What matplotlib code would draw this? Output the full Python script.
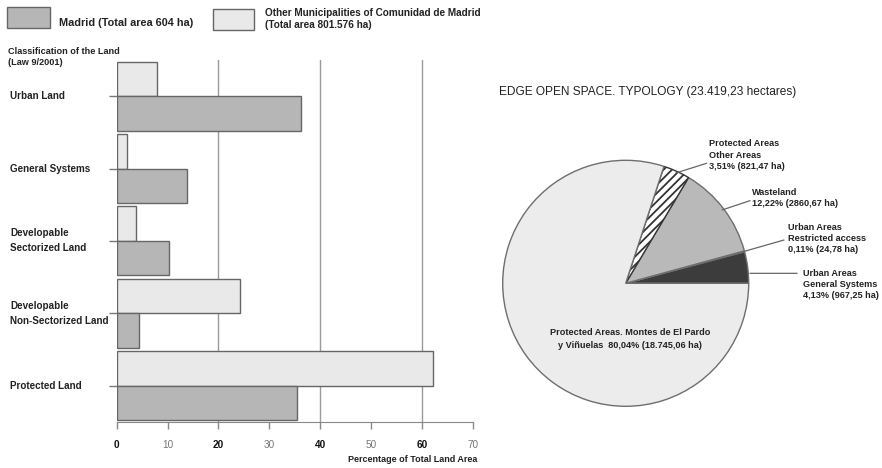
import numpy as np
import matplotlib
matplotlib.use("Agg")
import matplotlib.pyplot as plt
import matplotlib.transforms as mtransforms
from matplotlib.patches import Rectangle

plt.rcParams['font.family'] = ['Liberation Sans', 'DejaVu Sans']
plt.rcParams['hatch.linewidth'] = 1.3

# bar chart data (% of total land area)
categories = ["Urban Land", "General Systems", "Developable\nSectorized Land",
              "Developable\nNon-Sectorized Land", "Protected Land"]
madrid = [36.3, 13.8, 10.2, 4.3, 35.5]
others = [7.9, 2.0, 3.8, 24.3, 62.1]
xticks = [0, 10, 20, 30, 40, 50, 60, 70]

# pie chart data (edge open space typology)
pie_vals = [4.13, 0.11, 12.22, 3.51, 80.04]
pie_labels = ["Urban Areas\nGeneral Systems\n4,13% (967,25 ha)",
              "Urban Areas\nRestricted access\n0,11% (24,78 ha)",
              "Wasteland\n12,22% (2860,67 ha)",
              "Protected Areas\nOther Areas\n3,51% (821,47 ha)",
              "Protected Areas. Montes de El Pardo\ny Viñuelas  80,04% (18.745,06 ha)"]

c_madrid = '#b6b6b6'
c_other = '#e9e9e9'
c_edge = '#666666'
c_text = '#222222'

fig = plt.figure(figsize=(8.82, 4.68), dpi=100)

# ---------------- bar chart ----------------
ax = fig.add_axes([0.1323, 0.0989, 0.4040, 0.7729])
y = np.arange(len(categories))
h = 0.475
ax.barh(y - h / 2, others, height=h, color=c_other, edgecolor=c_edge, linewidth=1.0, zorder=3)
ax.barh(y + h / 2, madrid, height=h, color=c_madrid, edgecolor=c_edge, linewidth=1.0, zorder=3)
ax.set_xlim(0, 70)
ax.set_ylim(4.5, -0.5)
for g in [20, 40, 60]:
    ax.axvline(g, color='#9a9a9a', lw=1.0, zorder=1)
for s in ['top', 'right', 'left']:
    ax.spines[s].set_visible(False)
ax.spines['bottom'].set_color('#888888')
ax.set_yticks(y)
ax.set_yticklabels([])
ax.tick_params(axis='y', length=6, color='#777777', width=1)
ax.set_xticks(xticks)
ax.set_xticklabels([str(t) for t in xticks])
ax.tick_params(axis='x', length=5, color='#888888', width=1, pad=8, labelsize=7.2)
for t, lab in zip(xticks, ax.get_xticklabels()):
    if t % 20 == 0:
        lab.set_fontweight('bold')
        lab.set_color('#111111')
    else:
        lab.set_color('#777777')

trans = mtransforms.blended_transform_factory(fig.transFigure, ax.transData)
for yi, cat in zip(y, categories):
    fig.text(10 / 882, yi, cat, transform=trans, ha='left', va='center',
             fontsize=7.1, fontweight='bold', color=c_text, linespacing=1.6)

fig.text(8 / 882, 1 - 57 / 468, "Classification of the Land\n(Law 9/2001)", ha='left', va='center',
         fontsize=6.6, fontweight='bold', color=c_text, linespacing=1.4)
fig.text(477 / 882, 1 - 459 / 468, "Percentage of Total Land Area", ha='right', va='center',
         fontsize=6.5, fontweight='bold', color=c_text)

# legend
fig.add_artist(Rectangle((7 / 882, 1 - 28.3 / 468), 43 / 882, 21 / 468, transform=fig.transFigure,
                         facecolor=c_madrid, edgecolor=c_edge, lw=1))
fig.text(59 / 882, 1 - 22.7 / 468, "Madrid (Total area 604 ha)", ha='left', va='center',
         fontsize=7.8, fontweight='bold', color=c_text)
fig.add_artist(Rectangle((213 / 882, 1 - 30 / 468), 41 / 882, 21 / 468, transform=fig.transFigure,
                         facecolor=c_other, edgecolor=c_edge, lw=1))
fig.text(265 / 882, 1 - 19 / 468, "Other Municipalities of Comunidad de Madrid\n(Total area 801.576 ha)",
         ha='left', va='center', fontsize=7.2, fontweight='bold', color=c_text, linespacing=1.25)

# ---------------- pie chart ----------------
r_px = 123
cx, cy = 625.7, 283.3
pax = fig.add_axes([(cx - r_px) / 882, 1 - (cy + r_px) / 468, 2 * r_px / 882, 2 * r_px / 468])
pie_colors = ['#3c3c3c', '#8c8c8c', '#b9b9b9', 'white', '#ececec']
wedges, _ = pax.pie(pie_vals, colors=pie_colors, startangle=0, counterclock=True,
                    wedgeprops=dict(edgecolor='#6e6e6e', linewidth=1.0))
wedges[3].set_hatch('////')
wedges[3].set_edgecolor('#333333')
pax.set_xlim(-1, 1)
pax.set_ylim(-1, 1)
pax.set_aspect('equal')

fig.text(499 / 882, 1 - 91.7 / 468, "EDGE OPEN SPACE. TYPOLOGY (23.419,23 hectares)",
         ha='left', va='center', fontsize=8.6, color=c_text)

# label positions (pie coords) and leader-line ends
cum = np.cumsum([0] + pie_vals) / 100 * 360
mids = np.deg2rad((cum[:-1] + cum[1:]) / 2)
label_pos = [(1.439, -0.011), (1.322, 0.362), (1.024, 0.692), (0.680, 1.043)]
line_end = [(1.393, 0.081), (1.287, 0.352), (1.011, 0.672), (0.659, 0.976)]
anchors = [(1.01, 0.081)] + [(0.985 * np.cos(m), 0.985 * np.sin(m)) for m in mids[1:4]]
for lab, pos, le, an in zip(pie_labels[:4], label_pos, line_end, anchors):
    pax.annotate('', xy=an, xytext=le,
                 arrowprops=dict(arrowstyle='-', color='#666666', lw=0.9, shrinkA=0, shrinkB=0),
                 annotation_clip=False)
    pax.text(pos[0], pos[1], lab, ha='left', va='center', fontsize=6.6, fontweight='bold',
             color=c_text, linespacing=1.3, clip_on=False)
pax.text(0.035, -0.45, pie_labels[4], ha='center', va='center', fontsize=6.6, fontweight='bold',
         color=c_text, linespacing=1.55)

fig.savefig("out.png", dpi=100)
